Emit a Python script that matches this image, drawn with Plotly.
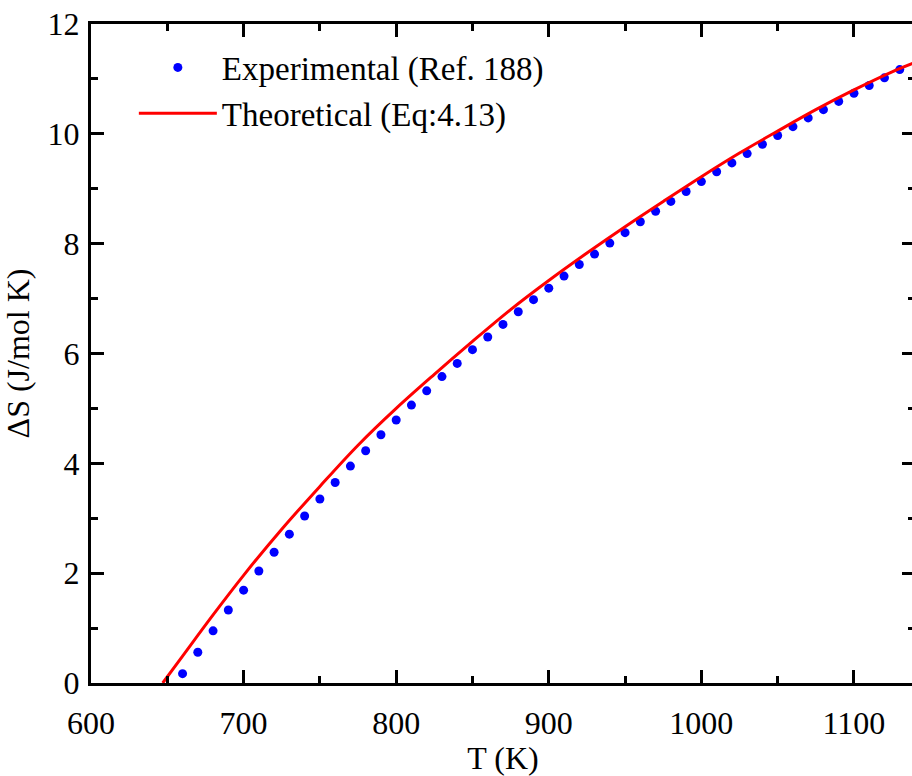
import plotly.graph_objects as go

# Experimental data (Ref. 188)
T_exp = [660, 670, 680, 690, 700, 710, 720, 730, 740, 750, 760, 770, 780, 790,
         800, 810, 820, 830, 840, 850, 860, 870, 880, 890, 900, 910, 920, 930,
         940, 950, 960, 970, 980, 990, 1000, 1010, 1020, 1030, 1040, 1050, 1060,
         1070, 1080, 1090, 1100, 1110, 1120, 1130]
dS_exp = [0.17, 0.56, 0.95, 1.33, 1.69, 2.04, 2.38, 2.71, 3.04, 3.35, 3.65, 3.95,
          4.23, 4.52, 4.79, 5.06, 5.32, 5.58, 5.82, 6.07, 6.30, 6.53, 6.76, 6.98,
          7.19, 7.41, 7.62, 7.81, 8.01, 8.20, 8.40, 8.59, 8.77, 8.95, 9.13, 9.31,
          9.47, 9.64, 9.81, 9.97, 10.13, 10.29, 10.44, 10.59, 10.74, 10.88, 11.02,
          11.17]

# Theoretical curve (Eq:4.13)
T_th = [647, 660, 680, 700, 725, 750, 775, 800, 825, 850, 875, 900, 925, 950,
        975, 1000, 1025, 1050, 1075, 1100, 1125, 1140]
dS_th = [0.0, 0.49, 1.24, 1.96, 2.80, 3.58, 4.33, 5.00, 5.62, 6.22, 6.80, 7.33,
         7.83, 8.31, 8.77, 9.22, 9.65, 10.05, 10.44, 10.80, 11.13, 11.30]

x_ticks = [600, 700, 800, 900, 1000, 1100]
y_ticks = [0, 2, 4, 6, 8, 10, 12]

F32 = dict(family="Liberation Serif", size=32, color="black")
F_LEG = dict(family="Liberation Serif", size=33, color="black")

fig = go.Figure()
fig.add_trace(go.Scatter(
    x=T_exp, y=dS_exp, mode="markers", name="Experimental (Ref. 188)",
    marker=dict(color="#0000FF", size=9, line=dict(width=0)),
))
fig.add_trace(go.Scatter(
    x=T_th, y=dS_th, mode="lines", name="Theoretical (Eq:4.13)",
    line=dict(color="#FF0000", width=3, shape="spline"),
))

fig.update_layout(
    width=922, height=776,
    margin=dict(l=91, r=4, t=24, b=84),
    paper_bgcolor="white", plot_bgcolor="white",
    font=F32,
    showlegend=True,
    legend=dict(
        x=0.052, y=0.9765, xanchor="left", yanchor="top",
        bgcolor="rgba(0,0,0,0)", borderwidth=0,
        font=F_LEG,
        itemwidth=78, tracegroupgap=0,
    ),
)

fig.update_xaxes(
    range=[600, 1140], tickvals=x_ticks, ticktext=[str(v) for v in x_ticks],
    showline=True, linecolor="black", linewidth=3, mirror="ticks",
    ticks="inside", ticklen=13, tickwidth=2.5, tickcolor="black",
    showgrid=False, zeroline=False,
    tickfont=F32,
    minor=dict(ticks="inside", ticklen=7, tickwidth=2.5, tickcolor="black", dtick=50, tick0=600),
    title_text="T (K)", title_font=F32, title_standoff=8,
    ticklabelstandoff=10,
)
fig.update_yaxes(
    range=[0, 12], tickvals=y_ticks, ticktext=[str(v) for v in y_ticks],
    showline=True, linecolor="black", linewidth=3, mirror="ticks",
    ticks="inside", ticklen=13, tickwidth=2.5, tickcolor="black",
    showgrid=False, zeroline=False,
    tickfont=F32,
    minor=dict(ticks="inside", ticklen=7, tickwidth=2.5, tickcolor="black", dtick=1, tick0=0),
    title_text="ΔS (J/mol K)", title_font=F32, title_standoff=10,
    ticklabelstandoff=2,
)

fig.write_html("out.html", post_script="document.body.style.overflow='hidden';document.documentElement.style.overflow='hidden';")
